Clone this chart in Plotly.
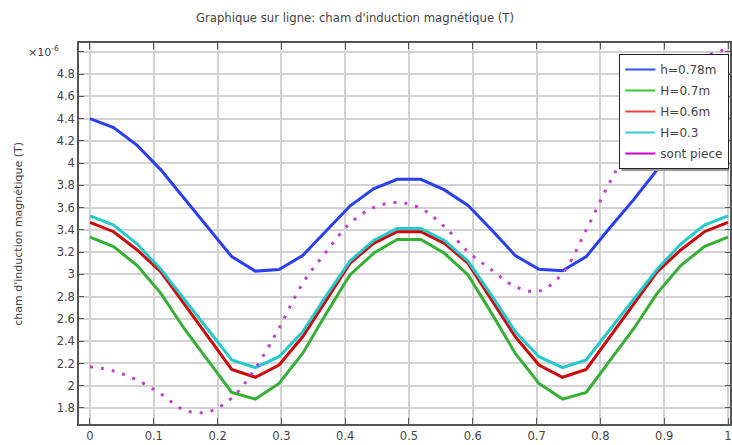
import plotly.graph_objects as go

# positions le long de la ligne (28 points, pas de 1/27)
x_pos = [i / 27 for i in range(28)]

# valeurs en unités de 1e-6 T
h_078 = [4.40, 4.32, 4.16, 3.94, 3.68, 3.42, 3.16, 3.03, 3.045, 3.17, 3.39, 3.615, 3.77, 3.855,
         3.855, 3.76, 3.62, 3.40, 3.17, 3.046, 3.033, 3.16, 3.42, 3.67, 3.94, 4.16, 4.32, 4.40]
h_07 = [3.335, 3.25, 3.08, 2.83, 2.51, 2.22, 1.94, 1.88, 2.02, 2.29, 2.65, 2.995, 3.19, 3.315,
        3.315, 3.19, 2.995, 2.65, 2.29, 2.02, 1.88, 1.94, 2.22, 2.51, 2.83, 3.08, 3.25, 3.335]
h_06 = [3.468, 3.384, 3.22, 3.024, 2.73, 2.44, 2.147, 2.076, 2.186, 2.44, 2.77, 3.10, 3.28, 3.384,
        3.384, 3.28, 3.10, 2.77, 2.44, 2.186, 2.076, 2.147, 2.44, 2.73, 3.024, 3.22, 3.384, 3.468]
h_03 = [3.527, 3.444, 3.273, 3.046, 2.775, 2.50, 2.231, 2.162, 2.261, 2.485, 2.81, 3.12, 3.305, 3.414,
        3.414, 3.305, 3.12, 2.81, 2.485, 2.261, 2.162, 2.231, 2.50, 2.775, 3.046, 3.273, 3.444, 3.527]
sans_piece = [2.171, 2.132, 2.05, 1.926, 1.78, 1.765, 1.89, 2.157, 2.516, 2.92, 3.204, 3.459, 3.60, 3.647,
              3.593, 3.43, 3.204, 3.04, 2.89, 2.85, 3.01, 3.40, 3.83, 4.20, 4.52, 4.77, 4.95, 5.03]

names = ["h=0.78m", "H=0.7m", "H=0.6m", "H=0.3", "sont piece"]
colors = ["#2a3ff0", "#35b035", "#cc0a0a", "#25c8cc", "#c040cc"]
legend_colors = ["#3050ff", "#33cc33", "#ee4444", "#33cccc", "#cc00cc"]

y_ticks = [1.8, 2.0, 2.2, 2.4, 2.6, 2.8, 3.0, 3.2, 3.4, 3.6, 3.8, 4.0, 4.2, 4.4, 4.6, 4.8, 5.0]
y_labels = ["1.8", "2", "2.2", "2.4", "2.6", "2.8", "3", "3.2", "3.4", "3.6", "3.8", "4",
            "4.2", "4.4", "4.6", "4.8", ""]
x_ticks = [0, 0.1, 0.2, 0.3, 0.4, 0.5, 0.6, 0.7, 0.8, 0.9, 1.0]
x_labels = ["0", "0.1", "0.2", "0.3", "0.4", "0.5", "0.6", "0.7", "0.8", "0.9", "1"]

fig = go.Figure()
series = [h_078, h_07, h_06, h_03]
for ys, nm, c in zip(series, names[:4], colors[:4]):
    fig.add_trace(go.Scatter(x=x_pos, y=ys, mode="lines", name=nm,
                             line=dict(color=c, width=3), showlegend=False))
fig.add_trace(go.Scatter(x=x_pos, y=sans_piece, mode="lines", name=names[4],
                         line=dict(color=colors[4], width=3, dash="3px,8px", shape="spline"),
                         showlegend=False))

# entrées de légende (traits fins), un groupe chacune pour l'espacement
for i, (nm, c) in enumerate(zip(names, legend_colors)):
    fig.add_trace(go.Scatter(x=[None], y=[None], mode="lines", name=nm,
                             legendgroup=f"g{i}", line=dict(color=c, width=2)))

axis_common = dict(showline=True, linecolor="#555555", linewidth=1.5, mirror="ticks",
                   ticks="inside", tickcolor="#555555", showgrid=True,
                   gridcolor="#d2d2d2", gridwidth=2, zeroline=False,
                   tickfont=dict(size=11.5, color="#444444"))

fig.update_xaxes(range=[-11 / 640, 642 / 640], tickvals=x_ticks, ticktext=x_labels,
                 ticklen=6, **axis_common)
fig.update_yaxes(range=[1.656, 5.08], tickvals=y_ticks, ticktext=y_labels,
                 ticklen=5, **axis_common)

fig.update_layout(
    width=732,
    height=445,
    margin=dict(l=79, r=0, t=43, b=21),
    paper_bgcolor="white",
    plot_bgcolor="white",
    font=dict(family="DejaVu Sans", color="#444444"),
    title=dict(text="Graphique sur ligne: cham d'induction magnétique (T)",
               x=355 / 732, xanchor="center", y=1 - 18 / 445, yanchor="middle",
               font=dict(size=11.7, color="#444444")),
    legend=dict(x=(621 - 79) / 653, y=(424 - 54) / 381, xanchor="left", yanchor="top",
                bgcolor="white", bordercolor="#222222", borderwidth=1,
                font=dict(size=12, color="#444444"), itemwidth=30,
                tracegroupgap=2, traceorder="grouped"),
    showlegend=True,
)

# ombre de la légende
fig.add_shape(type="rect", xref="paper", yref="paper",
              x0=(623 - 79) / 653, x1=(731 - 79) / 653,
              y0=(424 - 171) / 381, y1=(424 - 56) / 381,
              fillcolor="#9a9a9a", line=dict(width=0), layer="above")

fig.add_annotation(text="cham d'induction magnétique (T)", textangle=-90,
                   xref="paper", yref="paper", x=(18 - 79) / 653, y=0.5,
                   xanchor="center", yanchor="middle", showarrow=False,
                   font=dict(size=11, color="#444444"))
fig.add_annotation(text="×10<sup>-6</sup>", xref="paper", yref="paper",
                   x=(61 - 79) / 653, y=(424 - 51) / 381, xanchor="right", yanchor="middle",
                   showarrow=False, font=dict(size=11, color="#444444"))

# supprimer la marge par défaut du body
fig.write_html("out.html", config={"displayModeBar": False},
               post_script="document.body.style.margin='0px';")
